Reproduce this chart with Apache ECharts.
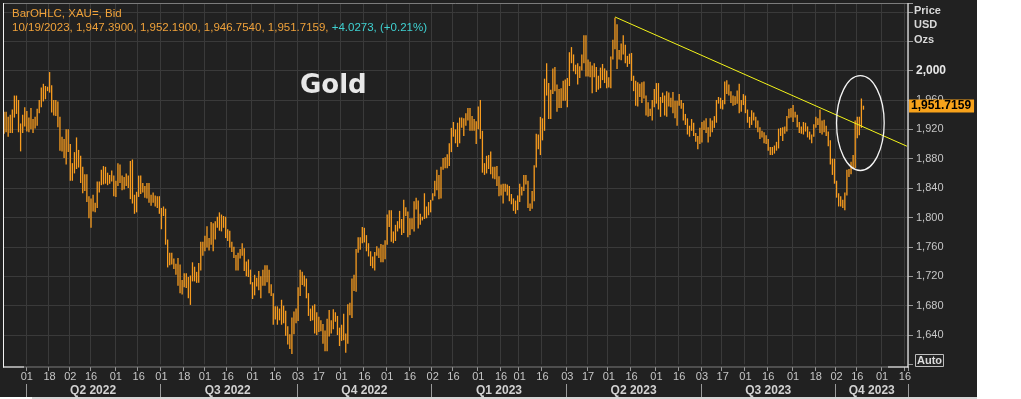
<!DOCTYPE html>
<html>
<head>
<meta charset="utf-8">
<title>Gold</title>
<script src="https://cdn.jsdelivr.net/npm/echarts@6/dist/echarts.min.js"></script>
<style>
  html, body { margin: 0; padding: 0; background: #ffffff; }
  #wrap { position: relative; width: 1021px; height: 399px; overflow: hidden; }
  #panel { position: absolute; left: 0; top: 0; width: 977px; height: 397px; background: #212121; }
  #strip { position: absolute; left: 32px; top: 397px; width: 945px; height: 2px; background: #d6d6d6; }
  #chart { position: absolute; left: 0; top: 0; width: 1021px; height: 399px; }
</style>
</head>
<body>
<div id="wrap">
  <div id="panel"></div>
  <div id="strip"></div>
  <div id="chart"></div>
</div>
<script>
/* global echarts */

// weekday calendar of the axis (data ends 2023-10-19, axis runs on to mid-November)
const AXIS_START = "2022-03-17";
const AXIS_END = "2023-11-17";

// daily lows, one line per month (Mar 17 2022 .. Oct 19 2023)
const LOWS = [
  1914, 1916, 1910, 1915, 1915, 1936, 1941, 1916, 1890, 1915, 1924,
  1917, 1916, 1920, 1915, 1921, 1925, 1942, 1950, 1958, 1961, 1972, 1970, 1943, 1939, 1938, 1923, 1891, 1890, 1881, 1872, 1889,
  1850, 1850, 1860, 1866, 1868, 1847, 1833, 1836, 1821, 1799, 1786, 1808, 1807, 1813, 1834, 1844, 1845, 1846, 1844, 1846, 1849, 1829,
  1828, 1843, 1847, 1837, 1838, 1843, 1840, 1825, 1819, 1805, 1807, 1828, 1832, 1834, 1827, 1826, 1820, 1816, 1820, 1815, 1813, 1805,
  1784, 1802, 1763, 1732, 1735, 1736, 1730, 1722, 1707, 1697, 1695, 1705, 1704, 1690, 1681, 1713, 1713, 1711, 1711, 1728, 1748,
  1754, 1759, 1755, 1763, 1754, 1770, 1786, 1782, 1781, 1786, 1772, 1768, 1759, 1753, 1745, 1728, 1728, 1744, 1748, 1727, 1720, 1719, 1709,
  1689, 1694, 1706, 1701, 1690, 1707, 1707, 1712, 1697, 1693, 1654, 1661, 1654, 1660, 1654, 1656, 1639, 1627, 1621, 1614, 1641, 1656,
  1659, 1693, 1708, 1706, 1690, 1666, 1659, 1660, 1642, 1640, 1644, 1645, 1628, 1618, 1618, 1638, 1642, 1648, 1658, 1640, 1625,
  1632, 1633, 1616, 1628, 1667, 1663, 1700, 1699, 1752, 1756, 1765, 1766, 1754, 1747, 1734, 1731, 1728, 1748, 1745, 1739, 1739, 1743,
  1763, 1787, 1767, 1765, 1768, 1781, 1785, 1776, 1779, 1802, 1773, 1776, 1784, 1781, 1811, 1785, 1790, 1796, 1798, 1799, 1803, 1807,
  1823, 1829, 1837, 1825, 1826, 1865, 1867, 1867, 1870, 1889, 1910, 1901, 1896, 1901, 1922, 1911, 1925, 1932, 1918, 1918, 1918, 1900,
  1920, 1907, 1861, 1858, 1860, 1866, 1859, 1853, 1852, 1843, 1829, 1830, 1819, 1835, 1830, 1822, 1818, 1809, 1805, 1810,
  1821, 1830, 1836, 1845, 1813, 1809, 1812, 1822, 1868, 1893, 1885, 1905, 1918, 1966, 1934, 1934, 1968, 1972, 1944, 1949, 1949, 1959, 1959,
  1950, 1979, 2010, 1999, 1995, 1981, 1990, 2000, 2010, 1992, 1992, 1991, 1969, 1991, 1971, 1974, 1976, 1987, 1983, 1976,
  1977, 1976, 2015, 2029, 2002, 2015, 2014, 2022, 2010, 2005, 2009, 1986, 1972, 1952, 1951, 1964, 1956, 1962, 1939, 1937, 1938, 1932, 1950,
  1955, 1947, 1937, 1956, 1939, 1937, 1951, 1950, 1942, 1935, 1925, 1952, 1948, 1932, 1926, 1913, 1910, 1918, 1911, 1903, 1893, 1900,
  1902, 1919, 1915, 1902, 1910, 1916, 1922, 1929, 1955, 1948, 1947, 1954, 1968, 1966, 1956, 1952, 1953, 1955, 1942, 1944, 1953,
  1942, 1929, 1922, 1926, 1932, 1922, 1916, 1907, 1909, 1901, 1900, 1891, 1885, 1885, 1887, 1891, 1894, 1911, 1904, 1914, 1917, 1935, 1936,
  1930, 1936, 1923, 1915, 1914, 1913, 1917, 1909, 1906, 1901, 1910, 1922, 1926, 1915, 1913, 1916, 1911, 1897, 1872, 1858, 1846,
  1827, 1815, 1815, 1813, 1810, 1830, 1855, 1859, 1867, 1867, 1908, 1912, 1922, 1946.754,
];

// daily highs, same layout
const HIGHS = [
  1944, 1944, 1937, 1940, 1947, 1966, 1966, 1960, 1928, 1940, 1950,
  1945, 1936, 1949, 1934, 1937, 1948, 1960, 1977, 1982, 1979, 1978, 1998, 1980, 1960, 1960, 1958, 1937, 1910, 1907, 1920, 1920,
  1900, 1874, 1889, 1909, 1892, 1884, 1869, 1859, 1859, 1829, 1826, 1831, 1820, 1849, 1849, 1865, 1870, 1869, 1861, 1858, 1864, 1857,
  1850, 1874, 1872, 1857, 1855, 1860, 1857, 1877, 1879, 1831, 1835, 1857, 1857, 1847, 1843, 1847, 1847, 1831, 1834, 1830, 1829, 1829,
  1813, 1815, 1812, 1770, 1752, 1752, 1744, 1737, 1745, 1736, 1715, 1724, 1724, 1719, 1721, 1739, 1733, 1726, 1738, 1767, 1767,
  1775, 1788, 1772, 1794, 1792, 1795, 1801, 1807, 1804, 1802, 1801, 1784, 1782, 1767, 1760, 1749, 1752, 1757, 1765, 1758, 1740, 1743, 1729,
  1712, 1722, 1718, 1727, 1720, 1729, 1735, 1735, 1729, 1709, 1697, 1679, 1679, 1676, 1688, 1680, 1673, 1652, 1641, 1664, 1672, 1676,
  1705, 1729, 1726, 1721, 1717, 1697, 1676, 1680, 1682, 1671, 1665, 1660, 1655, 1646, 1662, 1674, 1660, 1675, 1671, 1666, 1650,
  1654, 1669, 1642, 1682, 1684, 1717, 1722, 1757, 1773, 1773, 1787, 1786, 1776, 1765, 1754, 1747, 1753, 1761, 1758, 1764, 1763, 1769,
  1804, 1810, 1810, 1781, 1790, 1795, 1809, 1798, 1824, 1814, 1808, 1799, 1799, 1822, 1827, 1823, 1805, 1801, 1833, 1815, 1821, 1824,
  1833, 1850, 1865, 1858, 1869, 1881, 1882, 1886, 1901, 1922, 1930, 1920, 1929, 1936, 1936, 1935, 1942, 1949, 1949, 1938, 1934, 1931,
  1951, 1960, 1918, 1874, 1884, 1885, 1890, 1869, 1869, 1870, 1856, 1845, 1846, 1846, 1845, 1843, 1832, 1826, 1823, 1830,
  1846, 1842, 1858, 1858, 1850, 1819, 1836, 1871, 1914, 1913, 1937, 1935, 1989, 2010, 1983, 1974, 2003, 2005, 1981, 1975, 1976, 1986, 1988,
  1990, 2025, 2032, 2022, 2008, 2010, 2006, 2022, 2048, 2048, 2015, 2012, 2007, 2010, 2005, 1993, 2004, 2009, 2003, 2000,
  1991, 2019, 2042, 2072, 2063, 2028, 2037, 2048, 2035, 2020, 2023, 2024, 1993, 1986, 1984, 1982, 1984, 1985, 1966, 1957, 1948, 1960, 1975,
  1983, 1983, 1964, 1970, 1966, 1972, 1970, 1963, 1971, 1959, 1959, 1968, 1960, 1956, 1941, 1935, 1925, 1934, 1929, 1915, 1911, 1922,
  1930, 1932, 1935, 1923, 1935, 1932, 1938, 1960, 1964, 1963, 1960, 1985, 1987, 1981, 1972, 1966, 1965, 1973, 1982, 1960, 1968,
  1966, 1947, 1937, 1946, 1943, 1937, 1932, 1923, 1918, 1916, 1912, 1907, 1896, 1896, 1898, 1903, 1921, 1922, 1923, 1924, 1938, 1948, 1949,
  1953, 1944, 1940, 1930, 1924, 1930, 1929, 1924, 1917, 1913, 1927, 1937, 1935, 1947, 1932, 1933, 1925, 1917, 1905, 1880, 1880,
  1850, 1833, 1829, 1824, 1834, 1865, 1866, 1876, 1885, 1932, 1937, 1937, 1962, 1952.19,
];

// last bar as quoted in the header
const LAST_DATE = "10/19/2023";
const LAST_OHLC = ["1,947.3900", "1,952.1900", "1,946.7540", "1,951.7159"];
const LAST_CLOSE = 1951.7159;
const LAST_CHANGE = "+4.0273, (+0.21%)";

// day ticks along the time axis
const TICK_DATES = [
  "2022-04-01", "2022-04-18", "2022-05-02", "2022-05-16", "2022-06-01", "2022-06-16",
  "2022-07-01", "2022-07-18", "2022-08-01", "2022-08-16", "2022-09-01", "2022-09-16",
  "2022-10-03", "2022-10-17", "2022-11-01", "2022-11-16", "2022-12-01", "2022-12-16",
  "2023-01-02", "2023-01-16", "2023-02-01", "2023-02-16", "2023-03-01", "2023-03-16",
  "2023-04-03", "2023-04-17", "2023-05-01", "2023-05-16", "2023-06-01", "2023-06-16",
  "2023-07-03", "2023-07-17", "2023-08-01", "2023-08-16", "2023-09-01", "2023-09-18",
  "2023-10-02", "2023-10-16", "2023-11-01", "2023-11-16",
];

const QUARTER_LABELS = ["Q2 2022", "Q3 2022", "Q4 2022", "Q1 2023", "Q2 2023", "Q3 2023", "Q4 2023"];
const QUARTER_STARTS = ["2022-04-01", "2022-07-01", "2022-10-03", "2023-01-02", "2023-04-03", "2023-07-03", "2023-10-02"];

// resistance line drawn on the chart, and the circled breakout
const TREND_FROM = ["2023-05-04", 2073];
const TREND_TO = ["2023-11-17", 1897];
const CIRCLE_BOX = [["2023-10-02", 1993], ["2023-11-02", 1864]];

const BAR_COLOR = "#f89c1f";
const GRID_COLOR = "#3a3a3a";
const AXIS_TEXT = "#c6c6c6";
const FONT = '"Liberation Sans", Arial, sans-serif';

function buildWeekdays(start, end) {
  const out = [];
  const d = new Date(start + "T00:00:00Z");
  const last = new Date(end + "T00:00:00Z");
  while (d <= last) {
    const wd = d.getUTCDay();
    if (wd !== 0 && wd !== 6) {
      out.push(d.toISOString().slice(0, 10));
    }
    d.setUTCDate(d.getUTCDate() + 1);
  }
  return out;
}

const dates = buildWeekdays(AXIS_START, AXIS_END);
const indexOf = {};
dates.forEach((d, i) => { indexOf[d] = i; });

const tickSet = new Set(TICK_DATES.map((d) => indexOf[d]));
const quarterStartSet = new Set(QUARTER_STARTS.map((d) => indexOf[d]));
const quarterLabelAt = {};
QUARTER_STARTS.forEach((d, i) => {
  const s = indexOf[d];
  const e = i + 1 < QUARTER_STARTS.length ? indexOf[QUARTER_STARTS[i + 1]] - 1 : dates.length - 1;
  quarterLabelAt[Math.floor((s + e) / 2)] = QUARTER_LABELS[i];
});

// stacked bars: an invisible base up to the low, then the day's range on top
const ranges = LOWS.map((lo, i) => +(HIGHS[i] - lo).toFixed(4));

function fmtPrice(v) {
  return v.toLocaleString("en-US");
}

const chart = echarts.init(document.getElementById("chart"), null, { renderer: "canvas" });

chart.setOption({
  animation: false,
  backgroundColor: "transparent",
  grid: { left: 3, top: 3, width: 905, height: 361.4 },
  xAxis: [
    {
      type: "category",
      data: dates,
      boundaryGap: true,
      offset: 2.6,
      axisLine: { show: false },
      axisTick: {
        show: true,
        length: 4,
        interval: (i) => tickSet.has(i),
        lineStyle: { color: "#9a9a9a" },
      },
      axisLabel: {
        interval: (i) => tickSet.has(i),
        formatter: (v) => v.slice(8, 10),
        color: AXIS_TEXT,
        fontFamily: FONT,
        fontSize: 11,
        margin: 4,
      },
      splitLine: {
        show: true,
        interval: (i) => tickSet.has(i),
        lineStyle: { color: GRID_COLOR, width: 1 },
      },
    },
    {
      type: "category",
      data: dates,
      boundaryGap: true,
      position: "bottom",
      offset: 19.6,
      axisLine: { show: false },
      axisTick: {
        show: true,
        length: 13,
        interval: (i) => quarterStartSet.has(i),
        lineStyle: { color: "#9a9a9a" },
      },
      axisLabel: {
        interval: (i) => quarterLabelAt[i] !== undefined,
        formatter: (v) => quarterLabelAt[indexOf[v]] || "",
        color: "#d2d2d2",
        fontFamily: FONT,
        fontWeight: "bold",
        fontSize: 12,
        margin: 1,
      },
      splitLine: { show: false },
    },
  ],
  yAxis: {
    type: "value",
    position: "right",
    min: 1600,
    max: 2092,
    interval: 40,
    axisLine: { show: false },
    axisTick: { show: true, length: 5, lineStyle: { color: "#9a9a9a" } },
    axisLabel: {
      margin: 8,
      color: AXIS_TEXT,
      fontFamily: FONT,
      fontSize: 11,
      formatter: (v) => {
        if (v > 2000 || v < 1640) return "";
        if (v === 2000) return "{b|2,000}";
        return fmtPrice(v);
      },
      rich: { b: { fontWeight: "bold", color: "#e8e8e8", fontSize: 12, fontFamily: FONT } },
    },
    splitLine: { show: true, showMinLine: false, showMaxLine: false, lineStyle: { color: GRID_COLOR, width: 1 } },
  },
  series: [
    {
      type: "bar",
      name: "base",
      stack: "day",
      data: LOWS,
      barWidth: 1.3,
      silent: true,
      itemStyle: { color: "rgba(0,0,0,0)" },
      emphasis: { disabled: true },
      z: 2,
    },
    {
      type: "bar",
      name: "XAU=",
      stack: "day",
      data: ranges,
      barWidth: 1.3,
      silent: true,
      itemStyle: { color: BAR_COLOR },
      emphasis: { disabled: true },
      z: 3,
    },
    {
      type: "line",
      name: "trend",
      data: [TREND_FROM, TREND_TO],
      symbol: "none",
      silent: true,
      lineStyle: { color: "#f5f51a", width: 1 },
      z: 4,
      markLine: {
        silent: true,
        symbol: ["none", "none"],
        lineStyle: { color: "rgba(0,0,0,0)", width: 0 },
        data: [{ yAxis: LAST_CLOSE }],
        label: {
          show: true,
          position: "end",
          distance: 1,
          formatter: LAST_OHLC[3],
          backgroundColor: "#f7a21b",
          color: "#000000",
          fontFamily: FONT,
          fontWeight: "bold",
          fontSize: 12,
          lineHeight: 13,
          padding: [0, 3, 0, 2],
        },
      },
    },
  ],
  graphic: [
    {
      type: "rect",
      shape: { x: 3.5, y: 3.5, width: 904.5, height: 363.5 },
      style: { fill: "none", stroke: "#7c7c7c", lineWidth: 1 },
      z: 10,
    },
    { type: "line", shape: { x1: 3.5, y1: 3, x2: 3.5, y2: 367.5 }, style: { stroke: "#f2f2f2", lineWidth: 1 }, z: 11 },
    { type: "line", shape: { x1: 908, y1: 3, x2: 908, y2: 367.5 }, style: { stroke: "#f2f2f2", lineWidth: 1 }, z: 11 },
    { type: "line", shape: { x1: 3, y1: 367, x2: 24, y2: 367 }, style: { stroke: "#f2f2f2", lineWidth: 1 }, z: 11 },
    { type: "line", shape: { x1: 888, y1: 367, x2: 908.5, y2: 367 }, style: { stroke: "#f2f2f2", lineWidth: 1 }, z: 11 },
    {
      type: "text",
      x: 12,
      y: 14,
      style: {
        text: "BarOHLC, XAU=, Bid",
        fill: "#f0a23a",
        font: "11.5px " + FONT,
        verticalAlign: "middle",
      },
      z: 12,
    },
    {
      type: "text",
      x: 12,
      y: 28,
      style: {
        text: "{o|" + LAST_DATE + ", " + LAST_OHLC.join(", ") + ", }{c|" + LAST_CHANGE + "}",
        font: "11.5px " + FONT,
        verticalAlign: "middle",
        rich: {
          o: { fill: "#f0a23a", font: "11.5px " + FONT },
          c: { fill: "#3fd2d2", font: "11.5px " + FONT },
        },
      },
      z: 12,
    },
    {
      type: "text",
      x: 300,
      y: 86,
      style: {
        text: "Gold",
        fill: "#e8e8e8",
        font: 'bold 26px "DejaVu Sans", sans-serif',
        verticalAlign: "middle",
      },
      z: 12,
    },
    {
      type: "text",
      x: 914,
      y: 11,
      style: { text: "Price", fill: "#d8d8d8", font: "bold 11px " + FONT, verticalAlign: "middle" },
      z: 12,
    },
    {
      type: "text",
      x: 914,
      y: 25,
      style: { text: "USD", fill: "#d8d8d8", font: "bold 11px " + FONT, verticalAlign: "middle" },
      z: 12,
    },
    {
      type: "text",
      x: 914,
      y: 40,
      style: { text: "Ozs", fill: "#d8d8d8", font: "bold 11px " + FONT, verticalAlign: "middle" },
      z: 12,
    },
    {
      type: "rect",
      shape: { x: 915.5, y: 354.5, width: 28, height: 12 },
      style: { fill: "#242424", stroke: "#bdbdbd", lineWidth: 1 },
      z: 12,
    },
    {
      type: "text",
      x: 917,
      y: 361,
      style: { text: "Auto", fill: "#dcdcdc", font: "bold 11px " + FONT, verticalAlign: "middle" },
      z: 13,
    },
  ],
});

// circle round the October breakout, placed from data coordinates
const p0 = chart.convertToPixel({ xAxisIndex: 0, yAxisIndex: 0 }, CIRCLE_BOX[0]);
const p1 = chart.convertToPixel({ xAxisIndex: 0, yAxisIndex: 0 }, CIRCLE_BOX[1]);
chart.setOption({
  graphic: [
    {
      id: "breakout",
      type: "ellipse",
      shape: {
        cx: (p0[0] + p1[0]) / 2,
        cy: (p0[1] + p1[1]) / 2,
        rx: Math.abs(p1[0] - p0[0]) / 2,
        ry: Math.abs(p1[1] - p0[1]) / 2,
      },
      style: { fill: "none", stroke: "#f4f4f4", lineWidth: 1.3 },
      z: 12,
    },
  ],
});
</script>
</body>
</html>
